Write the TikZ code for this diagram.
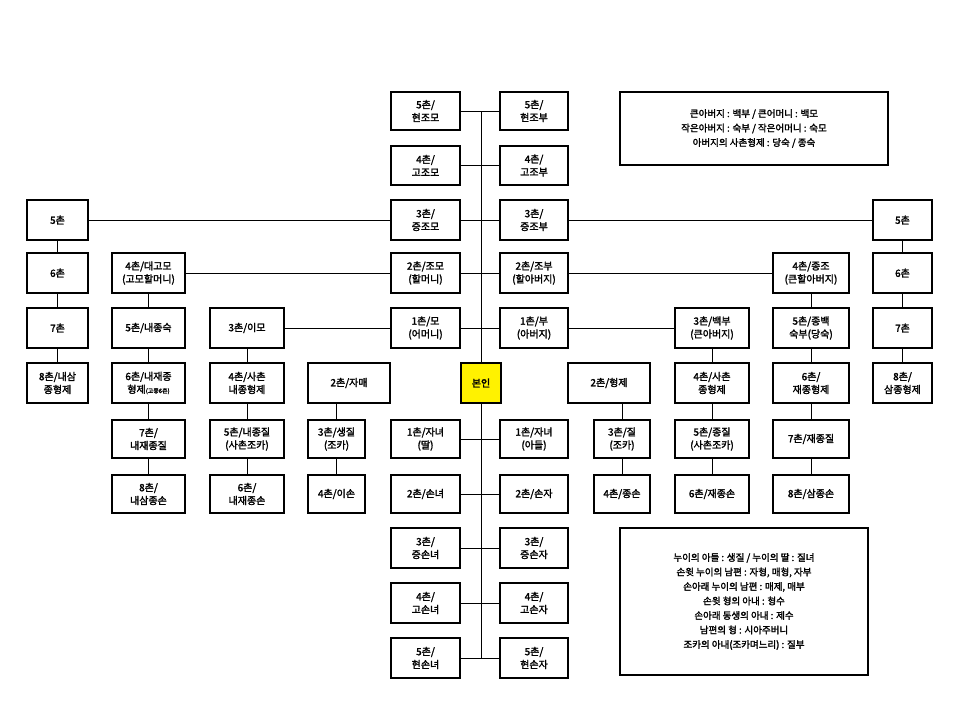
\documentclass[tikz,border=0pt]{standalone}
\usepackage{fontspec}
\setmainfont{Noto Sans CJK KR}[AutoFakeBold=2]
\begin{document}
\begin{tikzpicture}[x=1pt,y=-1pt,
  bx/.style={draw,line width=1.3pt,align=center,inner sep=1pt,font=\fontsize{10}{13}\selectfont\bfseries},
  ln/.style={line width=0.9pt},
  lg/.style={draw,line width=1.2pt,align=center,inner sep=3pt,font=\fontsize{9.5}{14.5}\selectfont\bfseries}]
\useasboundingbox (0,0) rectangle (960,720);
\newcommand\bx[6]{\node[bx,minimum width={(#4-#2)*1pt},minimum height={(#5-#3)*1pt}] (#1) at ({(#2+#4)/2},{(#3+#5)/2}) {#6};}
% center column
\bx{hjm}{391}{92}{460}{130}{5촌/\\현조모}
\bx{hjb}{500}{92}{568}{130}{5촌/\\현조부}
\bx{gjm}{391}{146}{460}{185}{4촌/\\고조모}
\bx{gjb}{500}{146}{568}{185}{4촌/\\고조부}
\bx{jjm}{391}{200}{460}{240}{3촌/\\증조모}
\bx{jjb}{500}{200}{568}{240}{3촌/\\증조부}
\bx{jm}{391}{253}{460}{293}{2촌/조모\\(할머니)}
\bx{jb}{500}{253}{568}{293}{2촌/조부\\(할아버지)}
\bx{mo}{391}{308}{460}{348}{1촌/모\\(어머니)}
\bx{bu}{500}{308}{568}{348}{1촌/부\\(아버지)}
\node[draw,line width=1.5pt,fill=yellow,minimum width=40pt,minimum height=40pt,inner sep=1pt,font=\fontsize{10}{13}\selectfont\bfseries] (me) at (481,383) {본인};
\bx{dd}{391}{420}{460}{458}{1촌/자녀\\(딸)}
\bx{ad}{500}{420}{568}{458}{1촌/자녀\\(아들)}
\bx{sn}{391}{475}{460}{513}{2촌/손녀}
\bx{sj}{500}{475}{568}{513}{2촌/손자}
\bx{jsn}{391}{528}{460}{568}{3촌/\\증손녀}
\bx{jsj}{500}{528}{568}{568}{3촌/\\증손자}
\bx{gsn}{391}{583}{460}{623}{4촌/\\고손녀}
\bx{gsj}{500}{583}{568}{623}{4촌/\\고손자}
\bx{hsn}{391}{638}{460}{678}{5촌/\\현손녀}
\bx{hsj}{500}{638}{568}{678}{5촌/\\현손자}
\coordinate (st) at (481,111);
\coordinate (sb) at (481,658);
\draw[ln] (st) -- (me.north) (me.south) -- (sb);
\foreach \n in {hjm,gjm,jjm,jm,mo,dd,sn,jsn,gsn,hsn}{\draw[ln] (\n.east) -- (\n.east -| st);}
\foreach \n in {hjb,gjb,jjb,jb,bu,ad,sj,jsj,gsj,hsj}{\draw[ln] (\n.west) -- (\n.west -| st);}
% left far
\bx{l5}{27}{200}{88}{240}{5촌}
\bx{l6}{27}{253}{88}{293}{6촌}
\bx{l7}{27}{308}{88}{348}{7촌}
\bx{l8}{27}{363}{88}{403}{8촌/내삼\\종형제}
\bx{a1}{112}{253}{185}{293}{4촌/대고모\\(고모할머니)}
\bx{a2}{112}{308}{185}{348}{5촌/내종숙}
\bx{a3}{112}{363}{185}{403}{6촌/내재종\\형제{\fontsize{6}{7}\selectfont(고종6촌)}}
\bx{a4}{112}{420}{185}{458}{7촌/\\내재종질}
\bx{a5}{112}{475}{185}{513}{8촌/\\내삼종손}
\bx{b1}{210}{308}{284}{348}{3촌/이모}
\bx{b2}{210}{363}{284}{403}{4촌/사촌\\내종형제}
\bx{b3}{210}{420}{284}{458}{5촌/내종질\\(사촌조카)}
\bx{b4}{210}{475}{284}{513}{6촌/\\내재종손}
\bx{c1}{308}{363}{390}{403}{2촌/자매}
\bx{c2}{308}{420}{365}{458}{3촌/생질\\(조카)}
\bx{c3}{308}{475}{365}{513}{4촌/이손}
\draw[ln] (l5) -- (jjm) (a1) -- (jm) (b1) -- (mo);
\draw[ln] (l5) -- (l6) -- (l7) -- (l8);
\draw[ln] (a1) -- (a2) -- (a3) -- (a4) -- (a5);
\draw[ln] (b1) -- (b2) -- (b3) -- (b4);
\draw[ln] (c1.south -| c2) -- (c2) -- (c3);
% right
\bx{r5}{873}{200}{932}{240}{5촌}
\bx{r6}{873}{253}{932}{293}{6촌}
\bx{r7}{873}{308}{932}{348}{7촌}
\bx{r8}{873}{363}{932}{403}{8촌/\\삼종형제}
\bx{e1}{773}{253}{849}{293}{4촌/종조\\(큰할아버지)}
\bx{e2}{773}{308}{849}{348}{5촌/종백\\숙부(당숙)}
\bx{e3}{773}{363}{849}{403}{6촌/\\재종형제}
\bx{e4}{773}{420}{849}{458}{7촌/재종질}
\bx{e5}{773}{475}{849}{513}{8촌/삼종손}
\bx{f1}{675}{308}{749}{348}{3촌/백부\\(큰아버지)}
\bx{f2}{675}{363}{749}{403}{4촌/사촌\\종형제}
\bx{f3}{675}{420}{749}{458}{5촌/종질\\(사촌조카)}
\bx{f4}{675}{475}{749}{513}{6촌/재종손}
\bx{g1}{568}{363}{650}{403}{2촌/형제}
\bx{g2}{594}{420}{650}{458}{3촌/질\\(조카)}
\bx{g3}{594}{475}{650}{513}{4촌/종손}
\draw[ln] (jjb) -- (r5) (jb) -- (e1) (bu) -- (f1);
\draw[ln] (r5) -- (r6) -- (r7) -- (r8);
\draw[ln] (e1) -- (e2) -- (e3) -- (e4) -- (e5);
\draw[ln] (f1) -- (f2) -- (f3) -- (f4);
\draw[ln] (g1.south -| g2) -- (g2) -- (g3);
% legends
\node[lg,minimum width=268pt,minimum height=73pt] (lg1) at (754,128.5) {큰아버지 : 백부 / 큰어머니 : 백모\\작은아버지 : 숙부 / 작은어머니 : 숙모\\아버지의 사촌형제 : 당숙 / 종숙};
\node[lg,minimum width=248pt,minimum height=147pt] (lg2) at (744,601.5) {누이의 아들 : 생질 / 누이의 딸 : 질녀\\손윗 누이의 남편 : 자형, 매형, 자부\\손아래 누이의 남편 : 매제, 매부\\손윗 형의 아내 : 형수\\손아래 동생의 아내 : 제수\\남편의 형 : 시아주버니\\조카의 아내(조카며느리) : 질부};
\end{tikzpicture}
\end{document}
